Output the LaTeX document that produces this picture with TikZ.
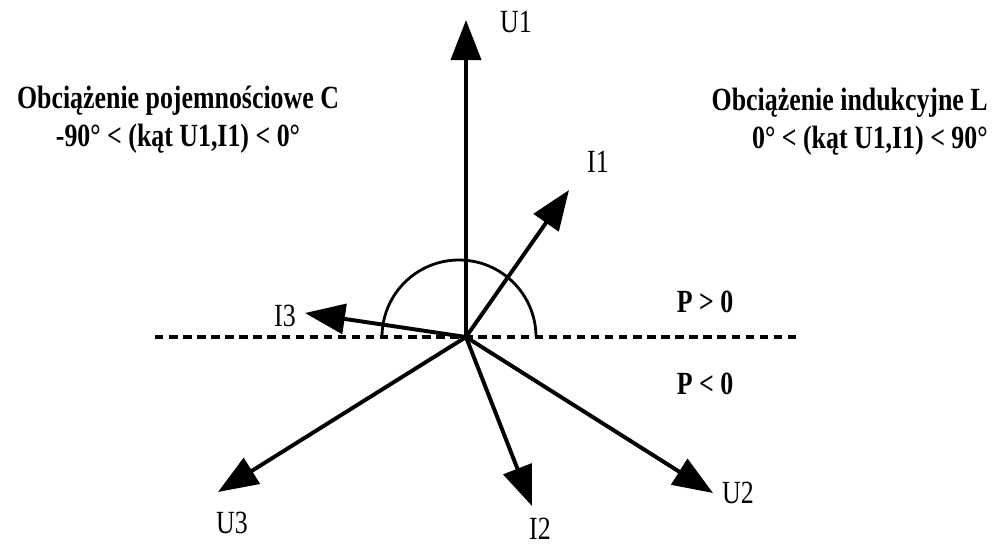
\documentclass[tikz,border=0pt]{standalone}
\usepackage{fontspec}
\setmainfont{Liberation Serif}[FakeStretch=0.8]
\usepackage{tikz}
\usetikzlibrary{arrows.meta, positioning}

\tikzset{
    vec/.style={line width=2.8pt, -{Triangle[length=1cm, width=0.75cm]}},
    lbl/.style={inner sep=0pt, font=\fontsize{23}{27}\selectfont},
    boldtxt/.style={inner sep=0pt, font=\fontsize{23}{27}\selectfont\bfseries},
}

\begin{document}
\begin{tikzpicture}[x=0.025cm, y=-0.025cm]
        \useasboundingbox (0,0) rectangle (994,548);

        % Origin and vector tips
        \coordinate (o) at (466,337);
        \coordinate (u1) at (466,20);
        \coordinate (i1) at (569,190);
        \coordinate (i3) at (305,313);
        \coordinate (u3) at (218,492);
        \coordinate (i2) at (532,506);
        \coordinate (u2) at (713,493);
        \coordinate (dl) at (155,337);
        \coordinate (dr) at (800,337);
        \coordinate (arcl) at (382,337);

        % Axis P = 0
        \draw[line width=3pt, dash pattern=on 6pt off 4pt] (dl) -- (dr);

        % Angle arc
        \draw[line width=2pt] (arcl) arc[start angle=180, end angle=360, radius=77];

        % Vectors
        \draw[vec] (o) -- (u1);
        \draw[vec] (o) -- (i1);
        \draw[vec] (o) -- (i3);
        \draw[vec] (o) -- (u3);
        \draw[vec] (o) -- (i2);
        \draw[vec] (o) -- (u2);

        % Vector labels
        \node[lbl] (lu1) at (516,22) {U1};
        \node[lbl] (li1) at (598,162) {I1};
        \node[lbl] (li3) at (285,316) {I3};
        \node[lbl] (lu3) at (232,523) {U3};
        \node[lbl] (li2) at (540,529) {I2};
        \node[lbl] (lu2) at (738,493) {U2};

        % Power sign
        \node[boldtxt] (ppos) at (705,302) {P > 0};
        \node[boldtxt] (pneg) at (705,384) {P < 0};

        % Load type
        \node[boldtxt, align=center] (capC) at (178,120) {Obciążenie pojemnościowe C\\-90° < (kąt U1,I1) < 0°};
        \node[boldtxt, align=right, anchor=east] (indL) at (988,122) {Obciążenie indukcyjne L\\0° < (kąt U1,I1) < 90°};
    \end{tikzpicture}
\end{document}
